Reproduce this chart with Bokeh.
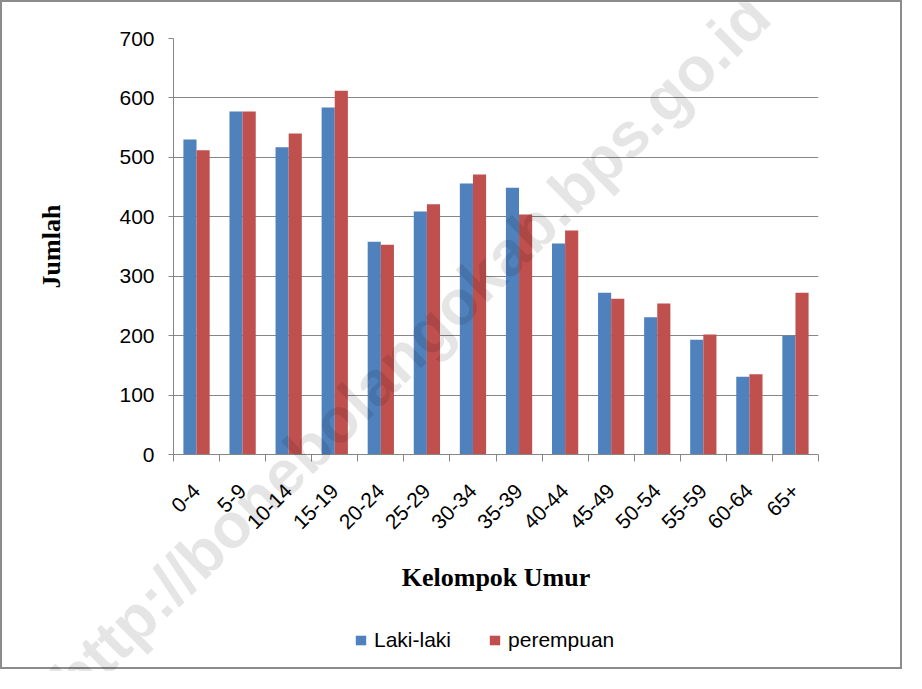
import math
from bokeh.plotting import figure
from bokeh.models import (Range1d, FixedTicker, Legend, LegendItem, Label,
                          ColumnDataSource)
from bokeh.transform import dodge
from bokeh.embed import file_html
from bokeh.resources import INLINE

# ---- data ----
kelompok_umur = ["0-4", "5-9", "10-14", "15-19", "20-24", "25-29", "30-34",
                 "35-39", "40-44", "45-49", "50-54", "55-59", "60-64", "65+"]
laki_laki = [530, 577, 517, 584, 358, 409, 456, 449, 355, 272, 231, 193, 131, 200]
perempuan = [512, 577, 540, 612, 353, 421, 471, 404, 377, 262, 254, 202, 135, 272]
y_ticks = [0, 100, 200, 300, 400, 500, 600, 700]
series_names = ["Laki-laki", "perempuan"]
watermark = "http://bonebolangokab.bps.go.id"

n = len(kelompok_umur)
centers = [i + 0.5 for i in range(n)]
bounds = list(range(n + 1))

src = ColumnDataSource(dict(x=centers, laki=laki_laki, perempuan=perempuan,
                            kel=kelompok_umur))

GREY = "#868686"
BLUE = "#4F81BD"
RED = "#C0504D"
SANS = "Liberation Sans"
SERIF = "Liberation Serif"
W, H = 902, 669

p = figure(width=W, height=H, output_backend="svg", toolbar_location=None,
           x_range=Range1d(0, n), y_range=Range1d(y_ticks[0], y_ticks[-1]),
           min_border_left=171, min_border_right=86,
           min_border_top=36, min_border_bottom=217)
p.styles = {"border": "2px solid #8c8c8c"}
p.outline_line_color = None
p.background_fill_color = "white"
p.border_fill_color = "white"

bw = 0.285
r1 = p.vbar(x=dodge("x", -bw / 2), top="laki", width=bw, source=src,
            fill_color=BLUE, line_color=None)
r2 = p.vbar(x=dodge("x", bw / 2), top="perempuan", width=bw, source=src,
            fill_color=RED, line_color=None)

# grid
p.xgrid.grid_line_color = None
p.ygrid.grid_line_color = GREY
p.ygrid.grid_line_width = 1
p.ygrid.ticker = FixedTicker(ticks=y_ticks)

# y axis
ya = p.yaxis[0]
ya.ticker = FixedTicker(ticks=y_ticks)
ya.axis_line_color = GREY
ya.major_tick_line_color = GREY
ya.major_tick_out = 5
ya.major_tick_in = 0
ya.minor_tick_line_color = None
ya.major_label_text_font = SANS
ya.major_label_text_font_size = "21px"
ya.major_label_text_color = "black"
ya.major_label_standoff = 14
ya.axis_label = "Jumlah"
ya.axis_label_text_font = SERIF
ya.axis_label_text_font_style = "bold"
ya.axis_label_text_font_size = "26px"
ya.axis_label_text_color = "black"
ya.axis_label_standoff = 50

# x axis
xa = p.xaxis[0]
xa.ticker = FixedTicker(ticks=centers, minor_ticks=bounds)
xa.major_label_overrides = {c: k for c, k in zip(centers, kelompok_umur)}
xa.axis_line_color = GREY
xa.major_tick_line_color = None
xa.major_tick_out = 0
xa.major_tick_in = 0
xa.minor_tick_line_color = GREY
xa.minor_tick_out = 7
xa.minor_tick_in = 0
xa.major_label_orientation = math.pi / 4
xa.major_label_text_font = SANS
xa.major_label_text_font_size = "21px"
xa.major_label_text_color = "black"
xa.major_label_standoff = 26
xa.axis_label = "Kelompok Umur"
xa.axis_label_text_font = SERIF
xa.axis_label_text_font_style = "bold"
xa.axis_label_text_font_size = "26px"
xa.axis_label_text_color = "black"
xa.axis_label_standoff = 25

# transparent overlay (separate root) carrying legend and watermark,
# so they are not clipped to the plot frame
ov = figure(width=W, height=H, output_backend="svg", toolbar_location=None,
            x_range=Range1d(0, 1), y_range=Range1d(0, 1),
            x_axis_type=None, y_axis_type=None, min_border=0)
ov.grid.visible = False
ov.outline_line_color = None
ov.background_fill_alpha = 0
ov.border_fill_alpha = 0
ov.styles = {"position": "absolute", "top": "2px", "left": "2px",
             "pointer-events": "none"}

# legend swatch renderers (kept outside the visible range)
swatch = ColumnDataSource(dict(x=[-1], top=[0]))
k1 = ov.vbar(x="x", top="top", width=0.1, source=swatch,
             fill_color=BLUE, line_color=None)
k2 = ov.vbar(x="x", top="top", width=0.1, source=swatch,
             fill_color=RED, line_color=None)
legend = Legend(items=[LegendItem(label=series_names[0], renderers=[k1]),
                       LegendItem(label=series_names[1], renderers=[k2])],
                orientation="horizontal", location=(352, 19),
                glyph_width=13, glyph_height=12, label_standoff=7,
                spacing=37, padding=0, margin=0,
                border_line_color=None, background_fill_alpha=0,
                label_text_font=SANS, label_text_font_size="21px",
                label_text_color="black")
ov.add_layout(legend, "center")

wm = Label(x=60, y=-18, x_units="screen", y_units="screen",
           text=watermark, angle=math.radians(44.5),
           text_font=SANS, text_font_style="bold", text_font_size="63px",
           text_color="black", text_alpha=0.1,
           text_align="left", text_baseline="alphabetic")
ov.add_layout(wm)

open("out.html", "w").write(file_html([p, ov], INLINE))
